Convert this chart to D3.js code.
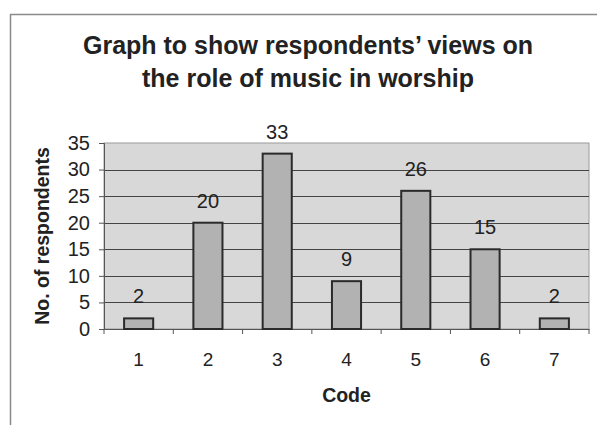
<!DOCTYPE html>
<html>
<head>
<meta charset="utf-8">
<script src="https://cdn.jsdelivr.net/npm/d3@7"></script>
<style>
  html, body { margin: 0; padding: 0; background: #fff; }
  svg { display: block; font-family: "Liberation Sans", Arial, sans-serif; }
</style>
</head>
<body>
<svg id="chart" width="597" height="425"></svg>
<script>
// Responses per code
const codes = ["1", "2", "3", "4", "5", "6", "7"];
const respondents = [2, 20, 33, 9, 26, 15, 2];
const yTicks = [0, 5, 10, 15, 20, 25, 30, 35];

const svg = d3.select("#chart");
const plot = { left: 104, right: 589, top: 143, bottom: 329 };
const ink = "#222";

// Outer chart frame
svg.append("line").attr("x1", 10).attr("x2", 597).attr("y1", 14.5).attr("y2", 14.5)
  .attr("stroke", "#8a8a8a").attr("stroke-width", 1.5);
svg.append("line").attr("x1", 10.5).attr("x2", 10.5).attr("y1", 14).attr("y2", 425)
  .attr("stroke", "#8a8a8a").attr("stroke-width", 1.5);

const x = d3.scaleBand().domain(codes).range([plot.left, plot.right]).paddingInner(0).paddingOuter(0);
const y = d3.scaleLinear().domain([0, 35]).range([plot.bottom, plot.top]);

// Plot area background
svg.append("rect")
  .attr("x", plot.left).attr("y", plot.top)
  .attr("width", plot.right - plot.left).attr("height", plot.bottom - plot.top)
  .attr("fill", "#d8d8d8").attr("stroke", "#9a9a9a").attr("stroke-width", 1);

// Horizontal gridlines
svg.append("g").selectAll("line")
  .data(yTicks.filter(t => t > 0 && t < 35))
  .join("line")
  .attr("x1", plot.left).attr("x2", plot.right)
  .attr("y1", d => Math.round(y(d)) + 0.5).attr("y2", d => Math.round(y(d)) + 0.5)
  .attr("stroke", "#444").attr("stroke-width", 1.2);

// Y axis
const yAxis = svg.append("g")
  .attr("transform", `translate(${plot.left},0)`)
  .call(d3.axisLeft(y).tickValues(yTicks).tickSize(5).tickPadding(9));
yAxis.select(".domain").attr("stroke", "#555");
yAxis.selectAll(".tick line").attr("stroke", "#555");
yAxis.selectAll("text").attr("font-size", 20).attr("fill", ink)
  .attr("font-family", "Liberation Sans, Arial, sans-serif");

// X axis with ticks at category boundaries
const xAxis = svg.append("g")
  .attr("transform", `translate(0,${plot.bottom})`)
  .call(d3.axisBottom(x).tickSize(0).tickPadding(0));
xAxis.select(".domain").attr("stroke", "#555");
xAxis.selectAll("text")
  .attr("dy", null).attr("y", 37)
  .attr("font-size", 19).attr("fill", ink)
  .attr("font-family", "Liberation Sans, Arial, sans-serif");
svg.append("g").selectAll("line")
  .data(d3.range(codes.length + 1))
  .join("line")
  .attr("x1", i => plot.left + i * x.step()).attr("x2", i => plot.left + i * x.step())
  .attr("y1", plot.bottom).attr("y2", plot.bottom + 5)
  .attr("stroke", "#555");

// Bars
const barW = x.bandwidth() * 0.42;
svg.append("g").selectAll("rect")
  .data(codes)
  .join("rect")
  .attr("x", (d) => x(d) + (x.bandwidth() - barW) / 2)
  .attr("y", (d, i) => y(respondents[i]))
  .attr("width", barW)
  .attr("height", (d, i) => y(0) - y(respondents[i]))
  .attr("fill", "#b2b2b2").attr("stroke", "#2a2a2a").attr("stroke-width", 2);

// Value labels
svg.append("g").selectAll("text")
  .data(codes)
  .join("text")
  .attr("x", d => x(d) + x.bandwidth() / 2)
  .attr("y", (d, i) => y(respondents[i]) - 15)
  .attr("text-anchor", "middle")
  .attr("font-size", 20).attr("fill", ink)
  .text((d, i) => respondents[i]);

// Title
const title = svg.append("text").attr("text-anchor", "middle")
  .attr("font-size", 25).attr("font-weight", "bold").attr("fill", ink);
title.append("tspan").attr("x", 308).attr("y", 54).text("Graph to show respondents\u2019 views on");
title.append("tspan").attr("x", 308).attr("y", 87).text("the role of music in worship");

// Axis titles
svg.append("text")
  .attr("x", (plot.left + plot.right) / 2).attr("y", 402)
  .attr("text-anchor", "middle").attr("font-size", 19.5).attr("font-weight", "bold").attr("fill", ink)
  .text("Code");
svg.append("text")
  .attr("transform", `translate(49,${(plot.top + plot.bottom) / 2}) rotate(-90)`)
  .attr("text-anchor", "middle").attr("font-size", 19.5).attr("font-weight", "bold").attr("fill", ink)
  .text("No. of respondents");
</script>
</body>
</html>
